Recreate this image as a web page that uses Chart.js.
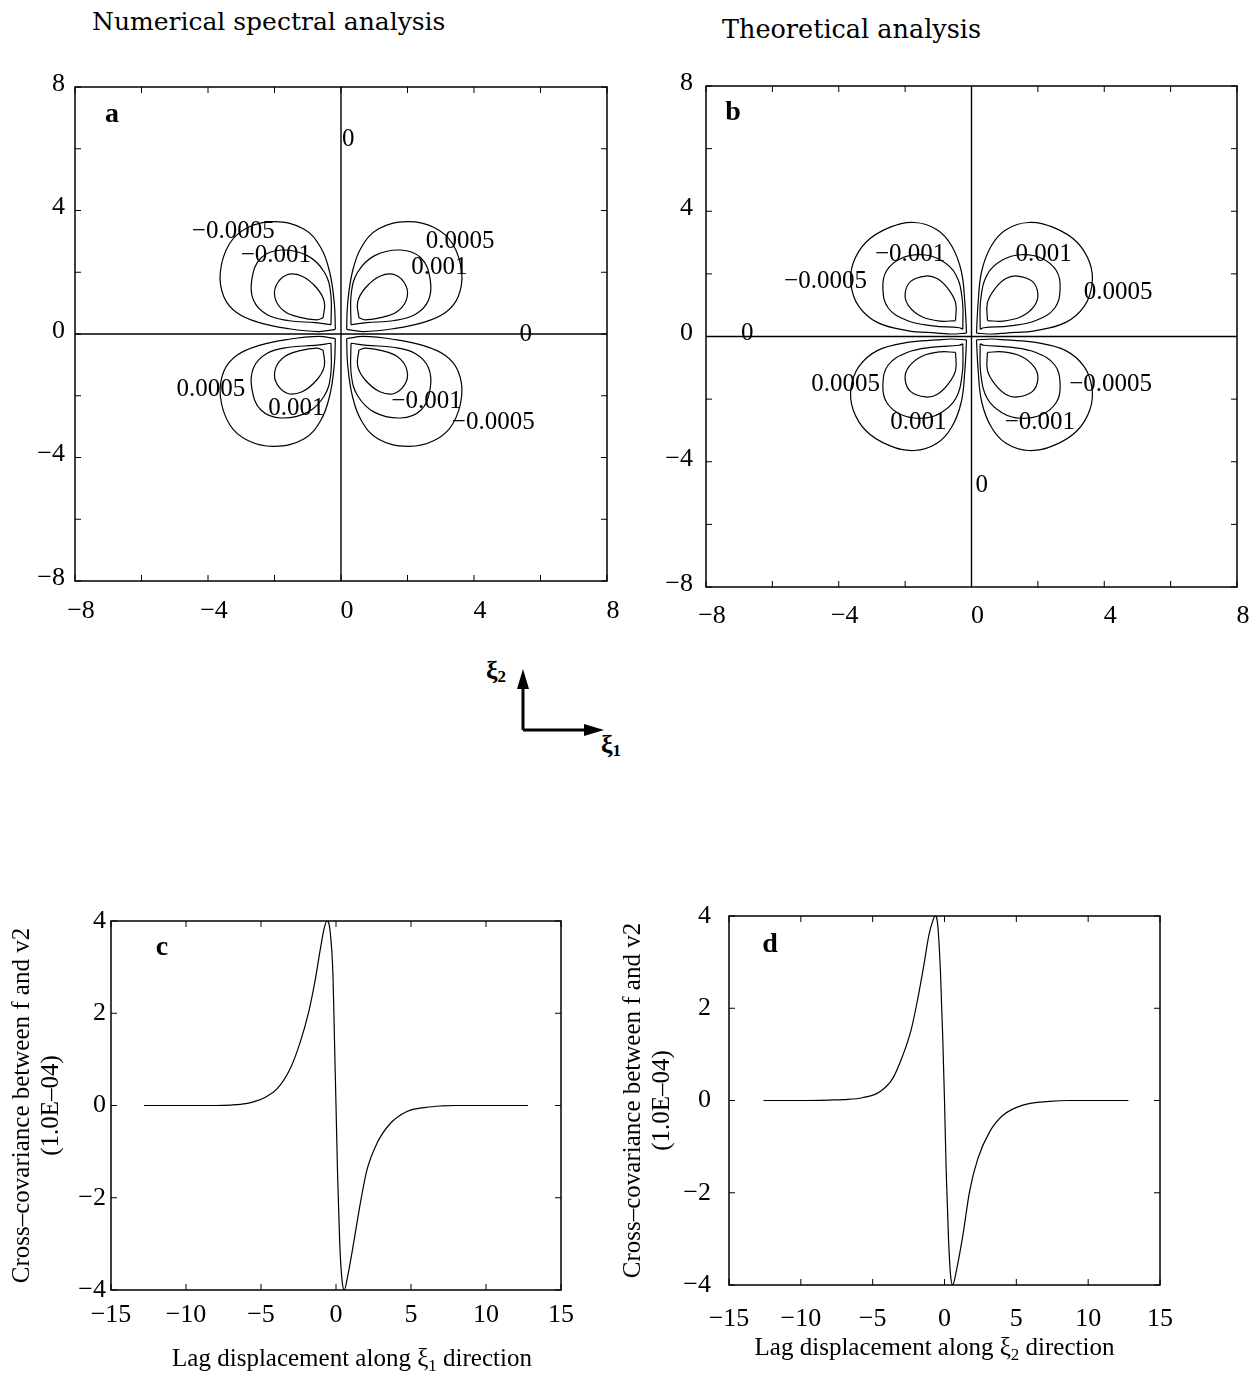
<!DOCTYPE html>
<html>
<head>
<meta charset="utf-8">
<script src="https://cdn.jsdelivr.net/npm/chart.js@4.4.1/dist/chart.umd.min.js"></script>
<style>
  body { margin: 0; background: #fff; width: 1260px; height: 1379px; position: relative; overflow: hidden; }
  canvas { position: absolute; }
  .head { position: absolute; font-family: "DejaVu Serif", serif; font-size: 25px; line-height: 25px; color: #000; white-space: nowrap; }
  #axesKey { position: absolute; left: 480px; top: 645px; }
</style>
</head>
<body>
<div class="head" style="left:92px; top:9px;">Numerical spectral analysis</div>
<div class="head" style="left:722px; top:17px; font-size:25.5px;">Theoretical analysis</div>

<canvas id="panelA"></canvas>
<canvas id="panelB"></canvas>
<canvas id="panelC"></canvas>
<canvas id="panelD"></canvas>

<svg id="axesKey" width="160" height="120">
  <line x1="43" y1="85" x2="43" y2="41" stroke="#000" stroke-width="3"/>
  <polygon points="43,24 37,44 49,44" fill="#000"/>
  <line x1="43" y1="85" x2="108" y2="85" stroke="#000" stroke-width="3"/>
  <polygon points="124,85 104,79 104,91" fill="#000"/>
  <text x="6" y="34" font-family="Liberation Serif" font-weight="bold" font-size="26">ξ<tspan font-size="17" dy="3">2</tspan></text>
  <text x="121" y="108" font-family="Liberation Serif" font-weight="bold" font-size="26">ξ<tspan font-size="17" dy="3">1</tspan></text>
</svg>

<script>
// contour lobes, first quadrant (other quadrants are mirror images)
const aOuter = [[0.17,0.15],[0.67,0.08],[1.56,0.17],[2.46,0.37],[3.13,0.69],[3.52,1.2],[3.63,2.0],[3.35,2.93],[2.8,3.45],[2.0,3.64],[1.12,3.4],[0.61,2.8],[0.34,2.0],[0.2,0.98],[0.17,0.15]];
const aMid = [[0.3,0.3],[0.78,0.37],[1.56,0.43],[2.23,0.63],[2.63,1.09],[2.68,1.78],[2.4,2.47],[1.79,2.72],[1.0,2.53],[0.5,2.0],[0.31,1.32],[0.3,0.3]];
const aInner = [[0.54,0.52],[0.73,0.46],[1.23,0.54],[1.68,0.72],[1.96,1.09],[1.96,1.55],[1.62,1.92],[1.17,1.87],[0.73,1.49],[0.5,1.03],[0.54,0.52]];

const bOuter = [[0.15,0.11],[0.6,0.08],[1.04,0.11],[1.94,0.19],[2.84,0.45],[3.4,0.97],[3.63,1.65],[3.57,2.33],[3.18,3.01],[2.5,3.47],[1.72,3.64],[1.04,3.41],[0.6,2.9],[0.31,2.1],[0.2,1.08],[0.15,0.11]];
const bMid = [[0.26,0.23],[0.37,0.28],[1.16,0.34],[1.94,0.51],[2.51,0.91],[2.67,1.53],[2.56,2.1],[2.11,2.5],[1.49,2.61],[0.93,2.44],[0.48,1.99],[0.28,1.19],[0.26,0.23]];
const bInner = [[0.48,0.51],[0.93,0.49],[1.49,0.63],[1.89,0.97],[2.0,1.36],[1.83,1.76],[1.38,1.93],[1.04,1.85],[0.71,1.53],[0.48,1.08],[0.48,0.51]];

const quadrants = [[1,1],[-1,1],[-1,-1],[1,-1]];
const zeroH = [[-8,0],[8,0]];
const zeroV = [[0,-8],[0,8]];

// contour level labels: text, x, y
const aLabels = [['0',0.22,6.3],['0',5.56,0],['\u22120.0005',-3.24,3.33],['\u22120.001',-1.96,2.53],['0.0005',3.58,2.99],['0.001',2.96,2.15],['0.0005',-3.91,-1.78],['0.001',-1.34,-2.41],['\u22120.001',2.57,-2.18],['\u22120.0005',4.58,-2.87]];
const bLabels = [['\u22120.001',-1.85,2.61],['0.001',2.17,2.61],['\u22120.0005',-4.4,1.76],['0.0005',4.42,1.4],['0',-6.76,0.11],['0.0005',-3.79,-1.53],['\u22120.0005',4.19,-1.53],['0.001',-1.6,-2.73],['\u22120.001',2.06,-2.73],['0',0.31,-4.77]];

// cross-covariance (x 1.0E-04) against lag
const cLag = [-12.8,-10,-8,-7,-6,-5.5,-4.7,-3.9,-3.05,-2.38,-1.82,-1.37,-1.04,-0.78,-0.6,-0.4,-0.2,-0.1,0,0.11,0.25,0.4,0.56,0.73,1.17,1.62,2.06,2.73,3.62,4.73,6,7,8,10,12.8];
const cCov = [0,0,0,0.01,0.04,0.08,0.18,0.37,0.8,1.38,2.03,2.75,3.4,3.85,4.0,3.8,2.8,1.4,0,-1.55,-3.0,-3.78,-4.0,-3.78,-2.99,-2.12,-1.4,-0.82,-0.39,-0.13,-0.04,-0.01,0,0,0];
const dLag = [-12.6,-10,-8,-7,-5.7,-4.5,-3.6,-2.9,-2.3,-1.86,-1.44,-1.09,-0.81,-0.65,-0.47,-0.28,-0.12,0,0.12,0.28,0.42,0.58,0.77,1.28,1.74,2.32,3.14,4.07,5.46,7.3,8.7,10,12.8];
const dCov = [0,0,0.01,0.02,0.06,0.19,0.48,0.98,1.56,2.21,2.93,3.58,3.9,4.0,3.8,2.78,1.34,0,-1.55,-3.0,-3.78,-4.0,-3.78,-2.92,-1.98,-1.26,-0.68,-0.32,-0.1,-0.02,0,0,0];

const yTitleLines = ['Cross\u2013covariance between f and v2', '(1.0E\u201304)'];
const cXTitle = ['Lag displacement along \u03be', '1', ' direction'];
const dXTitle = ['Lag displacement along \u03be', '2', ' direction'];

Chart.defaults.font.family = '"Liberation Serif", "Times New Roman", serif';
Chart.defaults.color = '#000';

const serif = '"Liberation Serif", "Times New Roman", serif';

function tickText(every) {
  return v => (v % every === 0 ? (v < 0 ? '\u2212' + (-v) : String(v)) : '');
}

// frame box, inward ticks on all four sides, panel letter, level labels, x title
function decor(cfg) {
  return {
    id: 'decor',
    afterDatasetsDraw(chart) {
      const { ctx, chartArea: ca, scales: { x, y } } = chart;
      ctx.save();
      ctx.strokeStyle = '#000';
      ctx.lineWidth = 1.5;
      ctx.strokeRect(ca.left, ca.top, ca.right - ca.left, ca.bottom - ca.top);
      ctx.lineWidth = 1;
      ctx.beginPath();
      x.ticks.forEach(t => {
        const px = x.getPixelForValue(t.value);
        ctx.moveTo(px, ca.bottom); ctx.lineTo(px, ca.bottom - 6);
        ctx.moveTo(px, ca.top); ctx.lineTo(px, ca.top + 6);
      });
      y.ticks.forEach(t => {
        const py = y.getPixelForValue(t.value);
        ctx.moveTo(ca.left, py); ctx.lineTo(ca.left + 6, py);
        ctx.moveTo(ca.right, py); ctx.lineTo(ca.right - 6, py);
      });
      ctx.stroke();

      ctx.fillStyle = '#000';
      ctx.textAlign = 'center';
      ctx.textBaseline = 'middle';
      ctx.font = 'bold 28px ' + serif;
      ctx.fillText(cfg.letter, ca.left + cfg.letterAt[0], ca.top + cfg.letterAt[1]);

      ctx.font = '25px ' + serif;
      (cfg.labels || []).forEach(([txt, vx, vy]) => {
        ctx.fillText(txt, x.getPixelForValue(vx), y.getPixelForValue(vy));
      });

      if (cfg.xTitle) {
        const [pre, sub, post] = cfg.xTitle;
        const big = '25px ' + serif, small = '17px ' + serif;
        ctx.font = big; const w1 = ctx.measureText(pre).width, w3 = ctx.measureText(post).width;
        ctx.font = small; const w2 = ctx.measureText(sub).width;
        let cx = (ca.left + ca.right) / 2 + cfg.xTitleAt[0] - (w1 + w2 + w3) / 2;
        const cy = ca.bottom + cfg.xTitleAt[1];
        ctx.textAlign = 'left';
        ctx.textBaseline = 'alphabetic';
        ctx.font = big; ctx.fillText(pre, cx, cy); cx += w1;
        ctx.font = small; ctx.fillText(sub, cx, cy + 5); cx += w2;
        ctx.font = big; ctx.fillText(post, cx, cy);
      }
      ctx.restore();
    }
  };
}

function place(id, frame, m) {
  const el = document.getElementById(id);
  const w = frame.right - frame.left + m.l + m.r;
  const h = frame.bottom - frame.top + m.t + m.b;
  el.width = w; el.height = h;
  el.style.width = w + 'px'; el.style.height = h + 'px';
  el.style.left = (frame.left - m.l) + 'px';
  el.style.top = (frame.top - m.t) + 'px';
  return el;
}

function line(points, extra) {
  return Object.assign({
    data: points.map(([x, y]) => ({ x, y })),
    showLine: true, borderColor: '#000', borderWidth: 1.2,
    pointRadius: 0, fill: false
  }, extra);
}

function scales(m, xr, yr, o) {
  return {
    x: {
      type: 'linear', min: xr[0], max: xr[1],
      afterFit: s => { s.height = m.b; },
      grid: { display: false, drawTicks: false }, border: { display: false },
      ticks: { stepSize: xr[2], autoSkip: false, maxRotation: 0, padding: o.xPad, labelOffset: o.xOff,
               callback: tickText(xr[3]), font: { size: 26 } }
    },
    y: {
      type: 'linear', min: yr[0], max: yr[1],
      afterFit: s => { s.width = m.l; },
      grid: { display: false, drawTicks: false }, border: { display: false },
      ticks: { stepSize: yr[2], autoSkip: false, padding: o.yPad, labelOffset: o.yOff,
               callback: tickText(yr[3]), font: { size: 26 } },
      title: o.yTitle || { display: false }
    }
  };
}

function contourPanel(id, frame, m, shapes, labels, letterAt, letter, o) {
  const el = place(id, frame, m);
  const datasets = [line(zeroH, { borderWidth: 1.4 }), line(zeroV, { borderWidth: 1.4 })];
  shapes.forEach(shape => {
    quadrants.forEach(([sx, sy]) => {
      datasets.push(line(shape.map(([x, y]) => [x * sx, y * sy]), { tension: 0.4 }));
    });
  });
  new Chart(el, {
    type: 'scatter',
    data: { datasets },
    options: {
      responsive: false, animation: false, events: [],
      layout: { padding: { left: 0, top: m.t, right: m.r, bottom: 0 } },
      plugins: { legend: { display: false }, tooltip: { enabled: false } },
      scales: scales(m, [-8, 8, 2, 4], [-8, 8, 2, 4], { xPad: o.xPad, xOff: 6, yPad: o.yPad, yOff: -3 })
    },
    plugins: [decor({ letter, letterAt, labels })]
  });
}

function covariancePanel(id, frame, m, lag, cov, letter, letterAt, xTitle, xTitleAt, o) {
  const el = place(id, frame, m);
  new Chart(el, {
    type: 'scatter',
    data: { datasets: [line(lag.map((x, i) => [x, cov[i]]), { cubicInterpolationMode: 'monotone' })] },
    options: {
      responsive: false, animation: false, events: [],
      layout: { padding: { left: 0, top: m.t, right: m.r, bottom: 0 } },
      plugins: { legend: { display: false }, tooltip: { enabled: false } },
      scales: scales(m, [-15, 15, 5, 5], [-4, 4, 2, 2], {
        xPad: o.xPad, xOff: 0, yPad: o.yPad, yOff: 0,
        yTitle: { display: true, text: yTitleLines, font: { size: 25, lineHeight: 1.15 }, padding: { top: o.titlePad, bottom: 0 } }
      })
    },
    plugins: [decor({ letter, letterAt, xTitle, xTitleAt })]
  });
}

contourPanel('panelA', { left: 75, top: 87, right: 607, bottom: 581 }, { l: 70, t: 45, r: 35, b: 50 },
  [aOuter, aMid, aInner], aLabels, [37, 28], 'a', { xPad: 15, yPad: 10 });
contourPanel('panelB', { left: 706, top: 86, right: 1237, bottom: 587 }, { l: 50, t: 45, r: 23, b: 50 },
  [bOuter, bMid, bInner], bLabels, [27, 27], 'b', { xPad: 14, yPad: 13 });

covariancePanel('panelC', { left: 111, top: 921, right: 561, bottom: 1290 }, { l: 111, t: 45, r: 40, b: 86 },
  cLag, cCov, 'c', [51, 27], cXTitle, [16, 76], { xPad: 10, yPad: 5, titlePad: 8 });
covariancePanel('panelD', { left: 729, top: 916, right: 1160, bottom: 1285 }, { l: 114, t: 45, r: 45, b: 80 },
  dLag, dCov, 'd', [41, 29], dXTitle, [-10, 70], { xPad: 19, yPad: 18, titlePad: 4 });
</script>
</body>
</html>
